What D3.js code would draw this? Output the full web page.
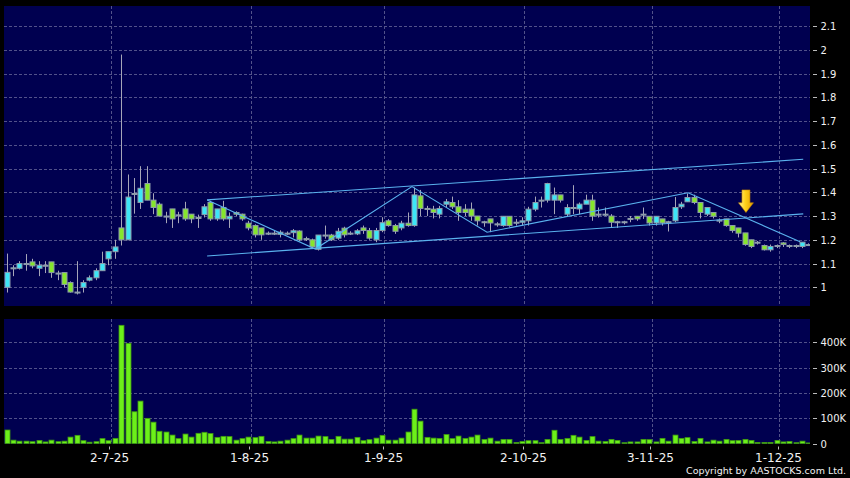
<!DOCTYPE html>
<html><head><meta charset="utf-8">
<script src="https://cdn.jsdelivr.net/npm/d3@7"></script>
<style>html,body{margin:0;padding:0;background:#000;} svg{display:block;}</style>
</head><body>
<svg id="c" width="850" height="478"></svg>
<script>
// ---------- DATA ----------
const dates = [
"9-6-25","10-6-25","11-6-25","12-6-25","13-6-25","16-6-25","17-6-25","18-6-25","19-6-25","20-6-25","23-6-25","24-6-25","25-6-25","26-6-25","27-6-25","30-6-25",
"2-7-25","3-7-25","4-7-25","7-7-25","8-7-25","9-7-25","10-7-25","11-7-25","14-7-25","15-7-25","16-7-25","17-7-25","18-7-25","21-7-25","22-7-25","23-7-25","24-7-25","25-7-25","28-7-25","29-7-25","30-7-25","31-7-25",
"1-8-25","4-8-25","5-8-25","6-8-25","7-8-25","8-8-25","11-8-25","12-8-25","13-8-25","14-8-25","15-8-25","18-8-25","19-8-25","20-8-25","21-8-25","22-8-25","25-8-25","26-8-25","27-8-25","28-8-25","29-8-25",
"1-9-25","2-9-25","3-9-25","4-9-25","5-9-25","8-9-25","9-9-25","10-9-25","11-9-25","12-9-25","15-9-25","16-9-25","17-9-25","18-9-25","19-9-25","22-9-25","23-9-25","24-9-25","25-9-25","26-9-25","29-9-25","30-9-25",
"2-10-25","3-10-25","6-10-25","8-10-25","9-10-25","10-10-25","13-10-25","14-10-25","15-10-25","16-10-25","17-10-25","20-10-25","21-10-25","22-10-25","23-10-25","24-10-25","27-10-25","28-10-25","30-10-25","31-10-25",
"3-11-25","4-11-25","5-11-25","6-11-25","7-11-25","10-11-25","11-11-25","12-11-25","13-11-25","14-11-25","17-11-25","18-11-25","19-11-25","20-11-25","21-11-25","24-11-25","25-11-25","26-11-25","27-11-25","28-11-25",
"1-12-25","2-12-25","3-12-25","4-12-25","5-12-25","8-12-25"];

const open = [1.000,1.078,1.080,1.100,1.107,1.080,1.093,1.107,1.060,1.062,1.020,0.980,1.000,1.030,1.040,1.070,
1.120,1.150,1.250,1.200,1.395,1.357,1.437,1.367,1.350,1.300,1.330,1.305,1.330,1.308,1.294,1.306,1.357,1.288,1.336,1.288,1.315,1.308,
1.270,1.260,1.250,1.228,1.228,1.223,1.228,1.230,1.237,1.205,1.200,1.160,1.220,1.220,1.207,1.249,1.228,1.225,1.250,1.239,1.200,
1.239,1.280,1.260,1.250,1.270,1.260,1.385,1.332,1.329,1.308,1.350,1.357,1.339,1.329,1.329,1.300,1.276,1.288,1.267,1.260,1.299,1.274,
1.274,1.280,1.329,1.367,1.367,1.367,1.389,1.308,1.336,1.330,1.350,1.367,1.308,1.308,1.300,1.276,1.276,1.290,1.299,1.308,
1.299,1.271,1.288,1.276,1.280,1.339,1.360,1.378,1.357,1.308,1.315,1.283,1.288,1.260,1.250,1.229,1.200,1.190,1.176,1.158,
1.176,1.187,1.176,1.176,1.172,1.180];
const high = [1.142,1.093,1.110,1.140,1.120,1.110,1.110,1.107,1.070,1.062,1.025,1.110,1.030,1.050,1.080,1.150,
1.150,1.200,1.980,1.475,1.460,1.510,1.510,1.396,1.357,1.318,1.330,1.318,1.360,1.308,1.306,1.350,1.364,1.330,1.364,1.315,1.320,1.310,
1.280,1.265,1.250,1.235,1.240,1.240,1.235,1.245,1.240,1.213,1.205,1.220,1.260,1.225,1.250,1.255,1.236,1.245,1.260,1.250,1.250,
1.295,1.287,1.267,1.280,1.315,1.420,1.410,1.343,1.343,1.343,1.372,1.382,1.367,1.350,1.357,1.300,1.280,1.288,1.274,1.299,1.299,1.288,
1.295,1.339,1.382,1.382,1.440,1.420,1.389,1.350,1.430,1.357,1.390,1.390,1.336,1.336,1.308,1.280,1.280,1.300,1.300,1.336,
1.300,1.300,1.288,1.280,1.380,1.360,1.395,1.390,1.357,1.336,1.315,1.290,1.288,1.260,1.250,1.229,1.200,1.195,1.180,1.180,
1.180,1.190,1.180,1.180,1.190,1.185];
const low = [0.978,1.047,1.075,1.070,1.080,1.047,1.060,1.040,1.030,1.000,0.978,0.970,0.978,1.025,1.030,1.070,
1.093,1.120,1.176,1.200,1.310,1.330,1.367,1.308,1.300,1.270,1.250,1.270,1.280,1.270,1.250,1.294,1.280,1.280,1.280,1.250,1.300,1.280,
1.240,1.210,1.200,1.220,1.220,1.210,1.220,1.210,1.195,1.195,1.165,1.155,1.205,1.195,1.200,1.210,1.220,1.220,1.225,1.200,1.190,
1.232,1.255,1.225,1.240,1.255,1.255,1.300,1.300,1.290,1.290,1.335,1.330,1.280,1.300,1.280,1.260,1.255,1.232,1.255,1.255,1.255,1.260,
1.260,1.260,1.320,1.336,1.357,1.308,1.357,1.300,1.308,1.308,1.350,1.280,1.294,1.300,1.250,1.250,1.265,1.274,1.280,1.288,
1.260,1.260,1.260,1.235,1.274,1.330,1.360,1.350,1.290,1.300,1.290,1.270,1.255,1.230,1.210,1.175,1.165,1.180,1.155,1.150,
1.165,1.170,1.165,1.165,1.165,1.175];
const close = [1.063,1.082,1.100,1.100,1.090,1.093,1.093,1.062,1.060,1.012,0.980,0.980,1.020,1.040,1.070,1.100,
1.150,1.170,1.200,1.380,1.395,1.417,1.367,1.336,1.300,1.300,1.288,1.305,1.288,1.288,1.294,1.339,1.288,1.330,1.288,1.299,1.308,1.288,
1.250,1.221,1.221,1.228,1.228,1.232,1.228,1.238,1.200,1.205,1.170,1.220,1.220,1.200,1.236,1.221,1.228,1.238,1.239,1.207,1.239,
1.272,1.260,1.236,1.270,1.260,1.389,1.332,1.332,1.315,1.332,1.360,1.339,1.315,1.315,1.300,1.280,1.276,1.271,1.267,1.299,1.260,1.274,
1.280,1.329,1.357,1.367,1.437,1.389,1.367,1.336,1.336,1.350,1.367,1.300,1.308,1.308,1.274,1.276,1.276,1.290,1.288,1.308,
1.271,1.299,1.271,1.276,1.336,1.350,1.378,1.357,1.315,1.336,1.299,1.283,1.260,1.239,1.228,1.180,1.172,1.190,1.158,1.172,
1.176,1.180,1.176,1.176,1.190,1.180];
const volume = [54,14,10,10,8,13,7,14,8,10,26,33,12,6,8,20,
12,21,467,396,126,168,100,85,49,46,34,20,38,26,41,45,40,25,29,28,14,20,
26,24,29,9,7,10,14,20,34,22,22,30,28,17,29,18,18,25,12,16,22,
33,14,14,22,46,136,89,25,22,21,36,20,30,21,26,34,17,22,10,17,17,5,
9,12,12,4,17,53,17,21,33,26,13,28,10,9,17,13,4,7,7,17,
16,7,21,10,34,21,24,9,21,7,14,10,17,12,13,17,13,5,5,5,
13,7,9,4,10,3].map(v => v * 1000);

const priceTicks = [1.0,1.1,1.2,1.3,1.4,1.5,1.6,1.7,1.8,1.9,2.0,2.1];
const volumeTicks = [0,100000,200000,300000,400000];
const dateTicks = ["2-7-25","1-8-25","1-9-25","2-10-25","3-11-25","1-12-25"];

// hand-drawn trend lines: [bar index (fractional), price]
const upperChannel = [[31.5,1.368],[125.2,1.539]];
const lowerChannel = [[31.5,1.132],[125.2,1.309]];
const zigzag = [[31.5,1.368],[48.5,1.161],[63.7,1.424],[75.5,1.232],[107.1,1.398],[124.7,1.192]];
const arrowAt = [116.2, 1.410, 1.315]; // index, top price, tip price

// ---------- LAYOUT ----------
const W = 850, H = 478;
const P = {x0:4, x1:810, y0:6, y1:306};
const V = {x0:4, x1:810, y0:319, y1:443.7};
const BG = "#000", PANEL = "#000050", GRID = "#52528a", TXT = "#f2f2f2";
const UP = "#3de6f7", DOWN = "#86e62c", EDGE = "#8e9cab", WICK = "#a6a6b8";

const svg = d3.select("#c");
svg.append("rect").attr("width",W).attr("height",H).attr("fill",BG);

const x = d3.scaleBand().domain(dates).range([3.52, 3.52 + dates.length*6.362]).padding(0);
const cx = d => x(d) + x.bandwidth()/2;
const xi = d3.scaleLinear().domain([0, dates.length-1]).range([cx(dates[0]), cx(dates[dates.length-1])]);
const y = d3.scaleLinear().domain([0.9213, 2.1844]).range([P.y1, P.y0]);
const yv = d3.scaleLinear().domain([0, 491900]).range([V.y1, V.y0]);

const defs = svg.append("defs");
defs.append("clipPath").attr("id","cp").append("rect").attr("x",P.x0).attr("y",P.y0).attr("width",P.x1-P.x0).attr("height",P.y1-P.y0);
defs.append("clipPath").attr("id","cv").append("rect").attr("x",V.x0).attr("y",V.y0).attr("width",V.x1-V.x0).attr("height",V.y1-V.y0);
const grad = defs.append("linearGradient").attr("id","ag").attr("x1","0").attr("x2","1").attr("y1","0").attr("y2","0");
grad.append("stop").attr("offset","0").attr("stop-color","#fff3a0");
grad.append("stop").attr("offset","0.45").attr("stop-color","#ffd21a");
grad.append("stop").attr("offset","1").attr("stop-color","#e09a00");

// panels
[P,V].forEach(b => svg.append("rect").attr("x",b.x0).attr("y",b.y0).attr("width",b.x1-b.x0).attr("height",b.y1-b.y0).attr("fill",PANEL));

// grids
const gp = svg.append("g").attr("clip-path","url(#cp)");
const gv = svg.append("g").attr("clip-path","url(#cv)");
gp.selectAll("line.h").data(priceTicks).join("line")
  .attr("x1",P.x0).attr("x2",P.x1).attr("y1",d=>Math.round(y(d))+0.5).attr("y2",d=>Math.round(y(d))+0.5)
  .attr("stroke",GRID).attr("stroke-dasharray","3,2");
gv.selectAll("line.h").data(volumeTicks.slice(1)).join("line")
  .attr("x1",V.x0).attr("x2",V.x1).attr("y1",d=>Math.round(yv(d))+0.5).attr("y2",d=>Math.round(yv(d))+0.5)
  .attr("stroke",GRID).attr("stroke-dasharray","3,2");
const gx = d => Math.round(cx(d) + 2.4) + 0.5;
gp.selectAll("line.v").data(dateTicks).join("line")
  .attr("x1",gx).attr("x2",gx).attr("y1",P.y0).attr("y2",P.y1)
  .attr("stroke",GRID).attr("stroke-dasharray","3,2");
gv.selectAll("line.v").data(dateTicks).join("line")
  .attr("x1",gx).attr("x2",gx).attr("y1",V.y0).attr("y2",V.y1)
  .attr("stroke",GRID).attr("stroke-dasharray","3,2");

// candles
const bars = dates.map((d,i) => ({d, o:open[i], h:high[i], l:low[i], c:close[i], v:volume[i]}));
const cg = gp.append("g");
cg.selectAll("line.w").data(bars).join("line")
  .attr("x1",b=>Math.round(cx(b.d))+0.5).attr("x2",b=>Math.round(cx(b.d))+0.5)
  .attr("y1",b=>y(b.h)).attr("y2",b=>y(b.l)).attr("stroke",WICK).attr("stroke-width",1);
cg.selectAll("rect").data(bars).join("rect")
  .attr("x",b=>Math.round(cx(b.d))-2)
  .attr("width",5)
  .attr("y",b=>Math.min(y(b.o),y(b.c)))
  .attr("height",b=>Math.max(1, Math.abs(y(b.o)-y(b.c))))
  .attr("fill",b=> b.c>b.o ? UP : (b.c<b.o ? DOWN : "#7fb8c8"))
  .attr("stroke",EDGE).attr("stroke-width",1);

// volume bars
gv.selectAll("rect.vb").data(bars).join("rect")
  .attr("x",b=>Math.round(cx(b.d))-2).attr("width",5)
  .attr("y",b=>yv(b.v)).attr("height",b=>yv(0)-yv(b.v))
  .attr("fill","#6cf01a").attr("stroke","#3f9a10").attr("stroke-width",0.8);

// trend lines
const line = d3.line().x(p=>xi(p[0])).y(p=>y(p[1]));
[upperChannel, lowerChannel, zigzag].forEach(pts =>
  gp.append("path").attr("d",line(pts)).attr("fill","none").attr("stroke","#5ab2ee").attr("stroke-width",1.1));

// arrow
(function(){
  const ax = xi(arrowAt[0]), yt = y(arrowAt[1]), yb = y(arrowAt[2]);
  const headH = (yb-yt)*0.43, sw = 4, hw = 7.5;
  const p = `M${ax-sw},${yt} L${ax+sw},${yt} L${ax+sw},${yb-headH} L${ax+hw},${yb-headH} L${ax},${yb} L${ax-hw},${yb-headH} L${ax-sw},${yb-headH} Z`;
  gp.append("path").attr("d",p).attr("fill","url(#ag)").attr("stroke","#c08000").attr("stroke-width",0.6);
})();

// y axes (right)
const yt = svg.append("g");
priceTicks.forEach(t => {
  const yy = Math.round(y(t))+0.5;
  yt.append("line").attr("x1",813).attr("x2",817).attr("y1",yy).attr("y2",yy).attr("stroke","#bbbbbb");
  yt.append("text").attr("x",820.5).attr("y",yy+3.6).text(String(+t.toFixed(1)))
    .attr("fill",TXT).attr("font-family","DejaVu Sans").attr("font-size",10);
});
volumeTicks.forEach(t => {
  const yy = Math.round(yv(t))+0.5;
  yt.append("line").attr("x1",813).attr("x2",817).attr("y1",yy).attr("y2",yy).attr("stroke","#bbbbbb");
  yt.append("text").attr("x",820.5).attr("y",yy+3.6).text(t===0?"0":(t/1000)+"K")
    .attr("fill",TXT).attr("font-family","DejaVu Sans").attr("font-size",10);
});

// x axis
dateTicks.forEach(d => {
  const xx = Math.round(cx(d)+1)+0.5;
  svg.append("line").attr("x1",xx).attr("x2",xx).attr("y1",446.5).attr("y2",449.5).attr("stroke","#bbbbbb");
  svg.append("text").attr("x",xx).attr("y",461.5).attr("text-anchor","middle").text(d)
    .attr("fill",TXT).attr("font-family","DejaVu Sans").attr("font-size",12);
});

svg.append("text").attr("x",846).attr("y",473.5).attr("text-anchor","end")
  .text("Copyright by AASTOCKS.com Ltd.").attr("fill",TXT).attr("font-family","DejaVu Sans").attr("font-size",9.5);
</script>
</body></html>
